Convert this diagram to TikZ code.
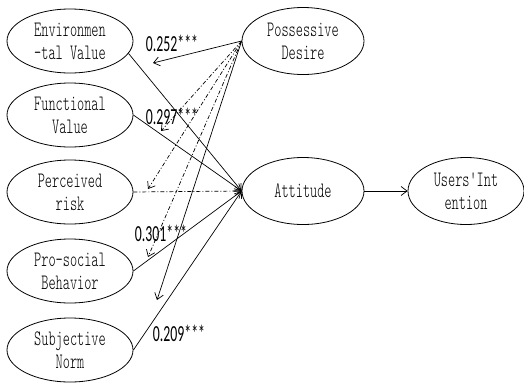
\documentclass[tikz,border=0pt]{standalone}
\usepackage{fontspec}
\setmainfont{Liberation Serif}
\newfontfamily\nodefont{lmmonolt10-regular}[Extension=.otf, FakeStretch=0.62]
\newfontfamily\labfont[FakeStretch=0.6]{Carlito}
\usetikzlibrary{arrows.meta,shapes.geometric}
\begin{document}
\begin{tikzpicture}[x=1pt,y=-1pt,
  var/.style={ellipse, draw, line width=0.8pt, minimum width=126pt, minimum height=64pt, inner sep=0pt, align=center, font=\nodefont\fontsize{22}{23}\selectfont},
  arr/.style={-{Straight Barb[length=6pt,width=9pt]}, line width=0.7pt},
  dd/.style={dash pattern=on 4pt off 2pt on 1pt off 2pt},
  coef/.style={font=\labfont\fontsize{23}{23}\selectfont, inner sep=0pt}]
\useasboundingbox (0,0) rectangle (524,383);
\node[var] (env) at (70,41) {Environmen\\-tal Value};
\node[var] (fun) at (70,115) {Functional\\Value};
\node[var] (per) at (70,192) {Perceived\\risk};
\node[var] (pro) at (70,271) {Pro-social\\Behavior};
\node[var] (sub) at (70,350) {Subjective\\Norm};
\node[var, minimum width=122pt, minimum height=67pt] (pd) at (303,41) {Possessive\\Desire};
\node[var, minimum width=122pt, minimum height=67pt] (att) at (303,191) {Attitude};
\node[var, minimum width=116pt, minimum height=67pt] (ui) at (466,191) {Users'Int\\ention};
% free ends of arrows from Possessive Desire
\coordinate (e1) at (153,63);
\coordinate (e2) at (161,131);
\coordinate (e3) at (148,189);
\coordinate (e4) at (148,257);
\coordinate (e5) at (157,300);
% paths to attitude
\draw[arr] (env.-12) -- (att.west);
\draw[arr] (fun.east) -- (att.west);
\draw[arr,dd] (per.east) -- (att.west);
\draw[arr] (pro.east) -- (att.west);
\draw[arr] (sub.east) -- (att.west);
\draw[arr] (att.east) -- (ui.west);
% paths from possessive desire
\draw[arr] (pd.west) -- (e1);
\draw[arr,dd] (pd.west) -- (e2);
\draw[arr,dd] (pd.west) -- (e3);
\draw[arr,dd] (pd.west) -- (e4);
\draw[arr] (pd.west) -- (e5);
% coefficients
\node[coef] (c1) at (172,43) {0.252***};
\node[coef] (c2) at (172,116) {0.297***};
\node[coef] (c3) at (161,233) {0.301***};
\node[coef] (c4) at (179,333) {0.209***};
\end{tikzpicture}
\end{document}
